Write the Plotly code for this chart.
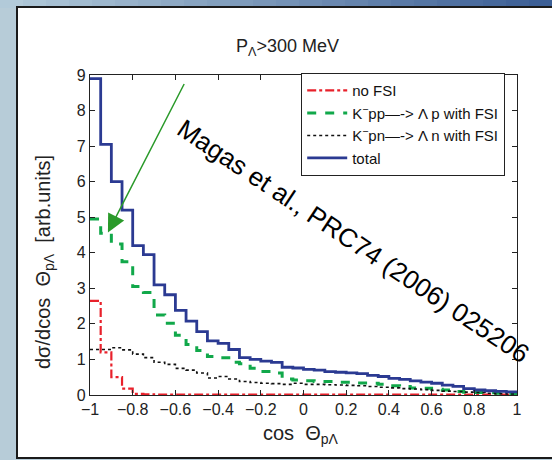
import plotly.graph_objects as go
import numpy as np

# ---- data (bin width 0.05, cos theta from -1 to 1) ----
bin_edges = [round(-1 + 0.05 * i, 2) for i in range(41)]

no_fsi = [2.65, 1.20, 0.50, 0.18, 0.03, 0.02, 0.01, 0.01, 0.01, 0.01,
          0.01, 0.01, 0.01, 0.01, 0.01, 0.01, 0.01, 0.01, 0.01, 0.01,
          0.01, 0.01, 0.01, 0.01, 0.01, 0.01, 0.01, 0.01, 0.01, 0.01,
          0.01, 0.01, 0.01, 0.01, 0.01, 0.01, 0.01, 0.01, 0.01, 0.01]

kpp_fsi = [4.95, 4.55, 4.25, 3.75, 3.05, 2.88, 2.25, 2.02, 1.68, 1.42,
           1.25, 1.08, 1.05, 0.92, 0.88, 0.75, 0.66, 0.62, 0.45, 0.42,
           0.40, 0.38, 0.38, 0.36, 0.36, 0.34, 0.33, 0.30, 0.26, 0.24,
           0.20, 0.19, 0.16, 0.14, 0.10, 0.08, 0.07, 0.06, 0.05, 0.04]

kpn_fsi = [1.28, 1.28, 1.33, 1.27, 1.15, 1.05, 0.92, 0.86, 0.75, 0.70,
           0.62, 0.48, 0.52, 0.45, 0.38, 0.35, 0.33, 0.32, 0.30, 0.33,
           0.30, 0.30, 0.29, 0.28, 0.27, 0.26, 0.24, 0.22, 0.20, 0.18,
           0.17, 0.15, 0.13, 0.11, 0.10, 0.08, 0.07, 0.05, 0.04, 0.03]

total = [8.90, 7.05, 6.00, 5.20, 4.20, 3.95, 3.10, 2.82, 2.38, 2.08,
         1.78, 1.52, 1.45, 1.28, 1.05, 1.00, 0.95, 0.92, 0.78, 0.76,
         0.72, 0.70, 0.66, 0.64, 0.62, 0.60, 0.55, 0.52, 0.47, 0.44,
         0.40, 0.36, 0.33, 0.28, 0.24, 0.18, 0.14, 0.12, 0.10, 0.09]

x_ticks = [-1, -0.8, -0.6, -0.4, -0.2, 0, 0.2, 0.4, 0.6, 0.8, 1]
x_tick_labels = ["−1", "−0.8", "−0.6", "−0.4", "−0.2", "0", "0.2", "0.4", "0.6", "0.8", "1"]
y_ticks = list(range(10))

FONT = "Liberation Sans, Arial, sans-serif"

def step(vals):
    return list(vals) + [vals[-1]]

fig = go.Figure()
fig.add_trace(go.Scatter(x=bin_edges, y=step(no_fsi), mode="lines", line_shape="hv",
                         name="no FSI", line=dict(color="#e8212b", width=2.2, dash="dashdot")))
fig.add_trace(go.Scatter(x=bin_edges, y=step(kpp_fsi), mode="lines", line_shape="hv",
                         name="K<sup>−</sup>pp—-> Λ p with FSI",
                         line=dict(color="#11a84a", width=3, dash="dash")))
fig.add_trace(go.Scatter(x=bin_edges, y=step(kpn_fsi), mode="lines", line_shape="hv",
                         name="K<sup>−</sup>pn—-> Λ n with FSI",
                         line=dict(color="#111111", width=1.6, dash="dot")))
fig.add_trace(go.Scatter(x=bin_edges, y=step(total), mode="lines", line_shape="hv",
                         name="total", line=dict(color="#2b3a92", width=2.8)))

W, H = 552, 460
L, R, T, B = 90, 35, 75, 65
pw, ph = W - L - R, H - T - B

def px2paper_x(px):
    return (px - L) / pw

def px2paper_y(py):
    return (H - B - py) / ph

shapes = []
# background frame: top gradient strip
n = 24
c0 = np.array([178, 202, 217])
c1 = np.array([60, 95, 150])
for i in range(n):
    t = i / (n - 1)
    c = (c0 * (1 - t) + c1 * t).astype(int)
    shapes.append(dict(type="rect", xref="paper", yref="paper", layer="below",
                       x0=px2paper_x(W * i / n), x1=px2paper_x(W * (i + 1) / n + 1),
                       y0=px2paper_y(8), y1=px2paper_y(-1),
                       fillcolor=f"rgb({c[0]},{c[1]},{c[2]})", line=dict(width=0)))
# white panel
shapes.append(dict(type="rect", xref="paper", yref="paper", layer="below",
                   x0=px2paper_x(17), x1=px2paper_x(W + 5),
                   y0=px2paper_y(458), y1=px2paper_y(7),
                   fillcolor="white", line=dict(color="#1a1a1a", width=2)))

annotations = [
    dict(text="P<sub>Λ</sub>>300 MeV", xref="paper", yref="paper", xanchor="center", yanchor="middle",
         x=px2paper_x(287), y=px2paper_y(47), showarrow=False, font=dict(size=18, color="#222", family=FONT)),
    dict(text="cos  Θ<sub>pΛ</sub>", xref="paper", yref="paper", xanchor="center", yanchor="middle",
         x=px2paper_x(301), y=px2paper_y(434), showarrow=False, font=dict(size=20, color="#222", family=FONT)),
    dict(text="dσ/dcos  Θ<sub>pΛ</sub>  [arb.units]", xref="paper", yref="paper",
         xanchor="center", yanchor="middle",
         x=px2paper_x(44), y=px2paper_y(262), textangle=-90, showarrow=False,
         font=dict(size=20, color="#222", family=FONT)),
    dict(text="", x=-0.916, y=4.57, xref="x", yref="y", showarrow=True,
         ax=77, ay=-150, arrowhead=2, arrowsize=2.4, arrowwidth=1.5, arrowcolor="#2a9a2a",
         standoff=0),
    dict(text="Magas et al., PRC74 (2006) 025206", x=0.232, y=4.32, xref="x", yref="y",
         xanchor="center", yanchor="middle",
         showarrow=False, textangle=33.7, font=dict(size=26, color="black", family=FONT)),
]

fig.update_layout(
    width=W, height=H,
    margin=dict(l=L, r=R, t=T, b=B),
    paper_bgcolor="#b7ccd8",
    plot_bgcolor="white",
    font=dict(family=FONT, size=16, color="#222"),
    shapes=shapes,
    annotations=annotations,
    legend=dict(x=px2paper_x(301), y=px2paper_y(73), xanchor="left", yanchor="top",
                bgcolor="white", bordercolor="#222", borderwidth=1.2,
                font=dict(size=15, family=FONT, color="#111"),
                tracegroupgap=0, itemwidth=40),
    showlegend=True,
)
fig.update_xaxes(range=[-1, 1], tickvals=x_ticks, ticktext=x_tick_labels,
                 ticks="inside", ticklen=5, tickcolor="#222", showline=True, linecolor="#222",
                 linewidth=1.2, mirror="ticks", showgrid=False, zeroline=False,
                 tickfont=dict(size=16))
fig.update_yaxes(range=[0, 9], tickvals=y_ticks, ticks="inside", ticklen=5, tickcolor="#222",
                 showline=True, linecolor="#222", linewidth=1.2, mirror="ticks",
                 showgrid=False, zeroline=False, tickfont=dict(size=16))

fig.write_html("out.html")
